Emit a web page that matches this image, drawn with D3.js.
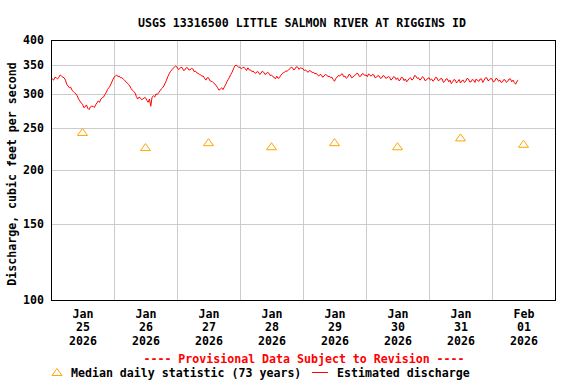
<!DOCTYPE html>
<html>
<head>
<meta charset="utf-8">
<script src="https://cdn.jsdelivr.net/npm/d3@7"></script>
<style>
  body { margin: 0; background: #fff; }
  svg text { font-family: "DejaVu Sans Mono", monospace; font-weight: bold; font-size: 11.6px; }
</style>
</head>
<body>
<div id="chart"></div>
<script>
// median daily statistic (73 years), one per day at noon
var medianDays = ["2026-01-25", "2026-01-26", "2026-01-27", "2026-01-28", "2026-01-29", "2026-01-30", "2026-01-31", "2026-02-01"];
var medianValues = [245, 226, 232, 227, 232, 227, 238, 230];

// estimated discharge, every 30 minutes, starting 2026-01-25 00:00
var dischargeStart = "2026-01-25T00:00:00Z";
var stepMinutes = 30;
var discharge = [
  // Jan 25
  327, 325, 323, 328, 327, 325, 328, 332, 330, 328, 327, 323,
  316, 313, 310, 311, 306, 304, 302, 300, 297, 292, 289, 286,
  284, 279, 280, 283, 278, 276, 280, 281, 281, 279, 283, 286,
  289, 287, 292, 294, 295, 299, 302, 307, 310, 313, 318, 323,
  // Jan 26
  328, 330, 332, 329, 330, 327, 327, 325, 323, 320, 318, 316,
  313, 309, 306, 304, 302, 296, 292, 295, 294, 291, 292, 294,
  294, 290, 287, 292, 281, 295, 297, 295, 300, 299, 302, 305,
  308, 310, 313, 318, 323, 329, 334, 338, 341, 344, 346, 348,
  // Jan 27
  346, 342, 343, 346, 345, 340, 341, 345, 345, 341, 341, 344,
  343, 338, 339, 336, 335, 333, 332, 330, 330, 326, 323, 327,
  327, 322, 321, 320, 318, 316, 313, 310, 306, 308, 310, 307,
  311, 315, 320, 324, 328, 333, 337, 343, 348, 350, 348, 346,
  // Jan 28
  346, 343, 345, 346, 343, 340, 345, 341, 341, 338, 339, 336,
  335, 338, 337, 333, 335, 339, 337, 333, 334, 337, 335, 331,
  332, 329, 328, 325, 330, 326, 327, 331, 334, 336, 337, 339,
  339, 341, 343, 346, 345, 341, 343, 347, 346, 342, 345, 344,
  // Jan 29
  343, 340, 341, 338, 337, 340, 339, 336, 337, 334, 335, 332,
  330, 333, 332, 328, 330, 333, 332, 329, 330, 327, 328, 324,
  321, 326, 328, 331, 330, 333, 334, 329, 330, 326, 328, 333,
  332, 327, 328, 331, 332, 335, 334, 329, 330, 334, 334, 331,
  // Jan 30
  332, 329, 334, 331, 330, 333, 332, 327, 328, 331, 330, 326,
  327, 331, 330, 326, 327, 329, 328, 323, 325, 329, 328, 324,
  327, 322, 323, 328, 327, 322, 325, 320, 323, 326, 327, 323,
  325, 331, 330, 326, 327, 323, 325, 329, 327, 322, 323, 326,
  // Jan 31
  327, 323, 325, 321, 323, 328, 327, 322, 323, 326, 325, 319,
  321, 325, 325, 320, 323, 317, 320, 324, 323, 318, 321, 324,
  318, 322, 323, 319, 321, 326, 325, 320, 320, 324, 323, 319,
  325, 322, 321, 325, 325, 319, 323, 327, 327, 322, 323, 326,
  // Feb 1
  325, 320, 321, 326, 325, 321, 323, 319, 320, 324, 323, 319,
  321, 325, 325, 320, 323, 319, 316, 321, 323
];

var yTicks = [100, 150, 200, 250, 300, 350, 400];
var yGrid = [150, 200, 250, 300, 350];

var W = 576, H = 384;
var margin = {top: 40, right: 21, bottom: 84, left: 51},
    width = W - margin.left - margin.right,
    height = H - margin.top - margin.bottom;

var parseDay = d3.utcParse("%Y-%m-%d");
var t0 = new Date(dischargeStart);
var flow = discharge.map((v, i) => ({date: d3.utcMinute.offset(t0, i * stepMinutes), value: v}));
var medians = medianDays.map((d, i) => ({date: d3.utcHour.offset(parseDay(d), 12), value: medianValues[i]}));

var x = d3.scaleUtc()
    .domain([parseDay("2026-01-25"), parseDay("2026-02-02")])
    .range([0, width]);
var y = d3.scaleLog().domain([100, 400]).range([height, 0]);

var svg = d3.select("#chart").append("svg")
    .attr("width", W)
    .attr("height", H);

svg.append("text")
    .attr("x", 302)
    .attr("y", 26.5)
    .attr("text-anchor", "middle")
    .text("USGS 13316500 LITTLE SALMON RIVER AT RIGGINS ID");

var g = svg.append("g")
    .attr("transform", `translate(${margin.left},${margin.top})`);

// grid
var midnights = d3.utcDay.range(parseDay("2026-01-26"), parseDay("2026-02-02"));
g.selectAll("line.vgrid")
    .data(midnights).enter().append("line")
    .attr("x1", d => Math.round(x(d)) + 0.5)
    .attr("x2", d => Math.round(x(d)) + 0.5)
    .attr("y1", 0)
    .attr("y2", height)
    .attr("stroke", "#cccccc");
g.selectAll("line.hgrid")
    .data(yGrid).enter().append("line")
    .attr("x1", 0)
    .attr("x2", width)
    .attr("y1", d => Math.round(y(d)) + 0.5)
    .attr("y2", d => Math.round(y(d)) + 0.5)
    .attr("stroke", "#cccccc");

// y axis
var yAxis = g.append("g")
    .call(d3.axisLeft(y).tickValues(yTicks).tickSize(0).tickPadding(7).tickFormat(d3.format("d")));
yAxis.select(".domain").remove();
yAxis.selectAll("text")
    .attr("fill", "#000")
    .style("font-family", "DejaVu Sans Mono")
    .style("font-size", "11.6px")
    .style("font-weight", "bold");

// x axis with three-line labels at noon
var noons = medians.map(d => d.date);
var fmtMon = d3.utcFormat("%b"), fmtDay = d3.utcFormat("%d"), fmtYear = d3.utcFormat("%Y");
var xAxis = g.append("g")
    .attr("transform", `translate(0,${height})`)
    .call(d3.axisBottom(x).tickValues(noons).tickSize(0).tickFormat(""));
xAxis.select(".domain").remove();
xAxis.selectAll(".tick text").each(function(d) {
    var t = d3.select(this)
        .attr("y", 0).attr("dy", null)
        .attr("fill", "#000")
        .style("font-family", "DejaVu Sans Mono")
        .style("font-size", "11.6px")
        .style("font-weight", "bold");
    [fmtMon(d), fmtDay(d), fmtYear(d)].forEach((s, i) => {
        t.append("tspan").attr("x", 0).attr("y", 17.5 + i * 13.5).text(s);
    });
});

// discharge line
var line = d3.line()
    .x(d => x(d.date))
    .y(d => y(d.value));
g.append("path")
    .datum(flow)
    .attr("fill", "none")
    .attr("stroke", "#ff0000")
    .attr("stroke-width", 1)
    .attr("d", line);

// median triangles
function tri(cx, cy) {
    return `M${cx - 5},${cy + 3.5}L${cx},${cy - 3.5}L${cx + 5},${cy + 3.5}Z`;
}
g.selectAll("path.median")
    .data(medians).enter().append("path")
    .attr("d", d => tri(x(d.date), y(d.value)))
    .attr("fill", "none")
    .attr("stroke", "#ffa500")
    .attr("stroke-width", 1);

// frame
g.append("rect")
    .attr("x", 0.5).attr("y", 0.5)
    .attr("width", width).attr("height", height)
    .attr("fill", "none")
    .attr("stroke", "#000");

// axis title
svg.append("text")
    .attr("transform", "translate(16,174) rotate(-90)")
    .attr("text-anchor", "middle")
    .text("Discharge, cubic feet per second");

// provisional note
svg.append("text")
    .attr("x", 304)
    .attr("y", 363)
    .attr("text-anchor", "middle")
    .attr("fill", "#ff0000")
    .text("---- Provisional Data Subject to Revision ----");

// legend
svg.append("path")
    .attr("d", tri(57, 372))
    .attr("fill", "none")
    .attr("stroke", "#ffa500");
svg.append("text")
    .attr("x", 71).attr("y", 377)
    .text("Median daily statistic (73 years)");
svg.append("line")
    .attr("x1", 312).attr("x2", 328)
    .attr("y1", 372.5).attr("y2", 372.5)
    .attr("stroke", "#ff0000");
svg.append("text")
    .attr("x", 337).attr("y", 377)
    .text("Estimated discharge");
</script>
</body>
</html>
